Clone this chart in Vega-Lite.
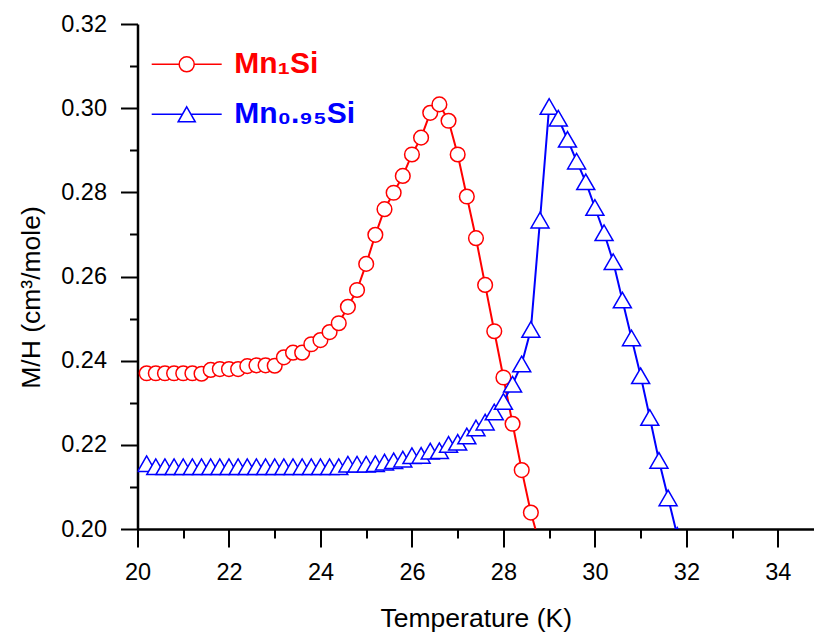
{
  "$schema": "https://vega.github.io/schema/vega-lite/v6.json",
  "width": 676.5,
  "height": 505,
  "autosize": "none",
  "padding": {"left": 137.5, "top": 24, "right": 0, "bottom": 106},
  "background": "white",
  "config": {
    "view": {"stroke": null},
    "axis": {
      "grid": false,
      "domainColor": "black",
      "domainWidth": 2.5,
      "tickColor": "black",
      "tickWidth": 2,
      "labelFont": "Liberation Sans",
      "labelFontSize": 23.5,
      "labelColor": "black",
      "titleFont": "Liberation Sans",
      "titleFontSize": 26.5,
      "titleFontWeight": "normal",
      "titleColor": "black"
    }
  },
  "datasets": {
    "pts": [
      {"s": "Mn1Si", "T": 20.2, "v": 0.2370},
      {"s": "Mn1Si", "T": 20.4, "v": 0.2370},
      {"s": "Mn1Si", "T": 20.6, "v": 0.2370},
      {"s": "Mn1Si", "T": 20.8, "v": 0.2370},
      {"s": "Mn1Si", "T": 21.0, "v": 0.2370},
      {"s": "Mn1Si", "T": 21.2, "v": 0.2370},
      {"s": "Mn1Si", "T": 21.4, "v": 0.2369},
      {"s": "Mn1Si", "T": 21.6, "v": 0.2378},
      {"s": "Mn1Si", "T": 21.8, "v": 0.2380},
      {"s": "Mn1Si", "T": 22.0, "v": 0.2380},
      {"s": "Mn1Si", "T": 22.2, "v": 0.2380},
      {"s": "Mn1Si", "T": 22.4, "v": 0.2387},
      {"s": "Mn1Si", "T": 22.6, "v": 0.2389},
      {"s": "Mn1Si", "T": 22.8, "v": 0.2389},
      {"s": "Mn1Si", "T": 23.0, "v": 0.2388},
      {"s": "Mn1Si", "T": 23.2, "v": 0.2408},
      {"s": "Mn1Si", "T": 23.4, "v": 0.2419},
      {"s": "Mn1Si", "T": 23.6, "v": 0.2419},
      {"s": "Mn1Si", "T": 23.8, "v": 0.2439},
      {"s": "Mn1Si", "T": 24.0, "v": 0.2449},
      {"s": "Mn1Si", "T": 24.2, "v": 0.2468},
      {"s": "Mn1Si", "T": 24.4, "v": 0.2489},
      {"s": "Mn1Si", "T": 24.6, "v": 0.2528},
      {"s": "Mn1Si", "T": 24.8, "v": 0.2568},
      {"s": "Mn1Si", "T": 25.0, "v": 0.2630},
      {"s": "Mn1Si", "T": 25.2, "v": 0.2699},
      {"s": "Mn1Si", "T": 25.4, "v": 0.2760},
      {"s": "Mn1Si", "T": 25.6, "v": 0.2799},
      {"s": "Mn1Si", "T": 25.8, "v": 0.2839},
      {"s": "Mn1Si", "T": 26.0, "v": 0.2890},
      {"s": "Mn1Si", "T": 26.2, "v": 0.2930},
      {"s": "Mn1Si", "T": 26.4, "v": 0.2989},
      {"s": "Mn1Si", "T": 26.6, "v": 0.3009},
      {"s": "Mn1Si", "T": 26.8, "v": 0.2970},
      {"s": "Mn1Si", "T": 27.0, "v": 0.2890},
      {"s": "Mn1Si", "T": 27.2, "v": 0.2790},
      {"s": "Mn1Si", "T": 27.4, "v": 0.2691},
      {"s": "Mn1Si", "T": 27.6, "v": 0.2580},
      {"s": "Mn1Si", "T": 27.8, "v": 0.2470},
      {"s": "Mn1Si", "T": 28.0, "v": 0.2360},
      {"s": "Mn1Si", "T": 28.2, "v": 0.2250},
      {"s": "Mn1Si", "T": 28.4, "v": 0.2140},
      {"s": "Mn1Si", "T": 28.6, "v": 0.2039},
      {"s": "Mn1Si", "T": 28.8, "v": 0.1961},
      {"s": "Mn0.95Si", "T": 20.2, "v": 0.2155},
      {"s": "Mn0.95Si", "T": 20.4, "v": 0.2148},
      {"s": "Mn0.95Si", "T": 20.6, "v": 0.2148},
      {"s": "Mn0.95Si", "T": 20.8, "v": 0.2148},
      {"s": "Mn0.95Si", "T": 21.0, "v": 0.2148},
      {"s": "Mn0.95Si", "T": 21.2, "v": 0.2148},
      {"s": "Mn0.95Si", "T": 21.4, "v": 0.2148},
      {"s": "Mn0.95Si", "T": 21.6, "v": 0.2148},
      {"s": "Mn0.95Si", "T": 21.8, "v": 0.2148},
      {"s": "Mn0.95Si", "T": 22.0, "v": 0.2148},
      {"s": "Mn0.95Si", "T": 22.2, "v": 0.2148},
      {"s": "Mn0.95Si", "T": 22.4, "v": 0.2148},
      {"s": "Mn0.95Si", "T": 22.6, "v": 0.2148},
      {"s": "Mn0.95Si", "T": 22.8, "v": 0.2148},
      {"s": "Mn0.95Si", "T": 23.0, "v": 0.2148},
      {"s": "Mn0.95Si", "T": 23.2, "v": 0.2148},
      {"s": "Mn0.95Si", "T": 23.4, "v": 0.2148},
      {"s": "Mn0.95Si", "T": 23.6, "v": 0.2148},
      {"s": "Mn0.95Si", "T": 23.8, "v": 0.2148},
      {"s": "Mn0.95Si", "T": 24.0, "v": 0.2148},
      {"s": "Mn0.95Si", "T": 24.2, "v": 0.2148},
      {"s": "Mn0.95Si", "T": 24.4, "v": 0.2148},
      {"s": "Mn0.95Si", "T": 24.6, "v": 0.2154},
      {"s": "Mn0.95Si", "T": 24.8, "v": 0.2154},
      {"s": "Mn0.95Si", "T": 25.0, "v": 0.2154},
      {"s": "Mn0.95Si", "T": 25.2, "v": 0.2155},
      {"s": "Mn0.95Si", "T": 25.4, "v": 0.2159},
      {"s": "Mn0.95Si", "T": 25.6, "v": 0.2162},
      {"s": "Mn0.95Si", "T": 25.8, "v": 0.2166},
      {"s": "Mn0.95Si", "T": 26.0, "v": 0.2174},
      {"s": "Mn0.95Si", "T": 26.2, "v": 0.2175},
      {"s": "Mn0.95Si", "T": 26.4, "v": 0.2185},
      {"s": "Mn0.95Si", "T": 26.6, "v": 0.2186},
      {"s": "Mn0.95Si", "T": 26.8, "v": 0.2201},
      {"s": "Mn0.95Si", "T": 27.0, "v": 0.2206},
      {"s": "Mn0.95Si", "T": 27.2, "v": 0.2221},
      {"s": "Mn0.95Si", "T": 27.4, "v": 0.2240},
      {"s": "Mn0.95Si", "T": 27.6, "v": 0.2254},
      {"s": "Mn0.95Si", "T": 27.8, "v": 0.2278},
      {"s": "Mn0.95Si", "T": 28.0, "v": 0.2303},
      {"s": "Mn0.95Si", "T": 28.2, "v": 0.2344},
      {"s": "Mn0.95Si", "T": 28.4, "v": 0.2392},
      {"s": "Mn0.95Si", "T": 28.6, "v": 0.2474},
      {"s": "Mn0.95Si", "T": 28.8, "v": 0.2734},
      {"s": "Mn0.95Si", "T": 29.0, "v": 0.3004},
      {"s": "Mn0.95Si", "T": 29.2, "v": 0.2976},
      {"s": "Mn0.95Si", "T": 29.4, "v": 0.2926},
      {"s": "Mn0.95Si", "T": 29.6, "v": 0.2874},
      {"s": "Mn0.95Si", "T": 29.8, "v": 0.2825},
      {"s": "Mn0.95Si", "T": 30.0, "v": 0.2764},
      {"s": "Mn0.95Si", "T": 30.2, "v": 0.2704},
      {"s": "Mn0.95Si", "T": 30.4, "v": 0.2635},
      {"s": "Mn0.95Si", "T": 30.6, "v": 0.2544},
      {"s": "Mn0.95Si", "T": 30.8, "v": 0.2454},
      {"s": "Mn0.95Si", "T": 31.0, "v": 0.2364},
      {"s": "Mn0.95Si", "T": 31.2, "v": 0.2265},
      {"s": "Mn0.95Si", "T": 31.4, "v": 0.2163},
      {"s": "Mn0.95Si", "T": 31.6, "v": 0.2074},
      {"s": "Mn0.95Si", "T": 31.8, "v": 0.1985}
    ],
    "frame": [{}]
  },
  "data": {"name": "pts"},
  "encoding": {
    "x": {
      "field": "T",
      "type": "quantitative",
      "scale": {"domain": [20, 34.79], "nice": false, "zero": false},
      "axis": {
        "title": "Temperature (K)",
        "values": [20, 21, 22, 23, 24, 25, 26, 27, 28, 29, 30, 31, 32, 33, 34],
        "labelExpr": "datum.value % 2 === 0 ? format(datum.value, 'd') : ''",
        "tickSize": {"condition": {"test": "datum.value % 2 === 0", "value": 18}, "value": 9},
        "labelPadding": 13,
        "labelFlush": false,
        "labelOverlap": false,
        "titleY": 89,
        "titleBaseline": "middle"
      }
    },
    "y": {
      "field": "v",
      "type": "quantitative",
      "scale": {"domain": [0.2, 0.32], "nice": false, "zero": false},
      "axis": {
        "title": "M/H (cm³/mole)",
        "values": [0.2, 0.21, 0.22, 0.23, 0.24, 0.25, 0.26, 0.27, 0.28, 0.29, 0.3, 0.31, 0.32],
        "labelExpr": "round(datum.value * 100) % 2 === 0 ? format(datum.value, '.2f') : ''",
        "tickSize": {"condition": {"test": "round(datum.value * 100) % 2 === 0", "value": 17}, "value": 8},
        "labelPadding": 14,
        "labelFlush": false,
        "labelOverlap": false,
        "titleX": -106,
        "titleY": 273,
        "titleBaseline": "middle"
      }
    }
  },
  "layer": [
    {
      "mark": {"type": "line", "strokeWidth": 2, "clip": true},
      "encoding": {
        "color": {
          "field": "s",
          "type": "nominal",
          "scale": {"domain": ["Mn1Si", "Mn0.95Si"], "range": ["#ff0000", "#0000ff"]},
          "legend": {
            "title": null,
            "orient": "none",
            "legendX": 30.7,
            "legendY": 21.8,
            "padding": 0,
            "rowPadding": 16,
            "symbolSize": 1225,
            "symbolStrokeWidth": 1.5,
            "symbolFillColor": "transparent",
            "labelFont": "Liberation Sans",
            "labelFontSize": 30,
            "labelFontWeight": "bold",
            "labelOffset": 29,
            "labelLimit": 0,
            "labelExpr": "datum.value === 'Mn1Si' ? 'Mn₁Si' : 'Mn₀.₉₅Si'",
            "encode": {
              "symbols": {
                "update": {
                  "shape": {"signal": "datum.value === 'Mn1Si' ? 'M-2,0H-0.43M0.43,0H2M0.43,0A0.43,0.43,0,1,1,-0.43,0A0.43,0.43,0,1,1,0.43,0Z' : 'M-2,0H-0.245M0.245,0H2M0,-0.43L0.49,0.43H-0.49Z'"},
                  "fill": {"value": "transparent"},
                  "strokeWidth": {"value": 1.5}
                }
              },
              "labels": {
                "update": {
                  "fill": {"signal": "datum.value === 'Mn1Si' ? '#ff0000' : '#0000ff'"}
                }
              }
            }
          }
        },
        "detail": {"field": "s"}
      }
    },
    {
      "transform": [{"filter": "datum.s === 'Mn1Si'"}],
      "mark": {"type": "point", "shape": "circle", "size": 215, "filled": false, "fill": "white", "fillOpacity": 1, "opacity": 1, "strokeWidth": 1.5, "clip": true},
      "encoding": {
        "color": {
          "field": "s",
          "type": "nominal",
          "scale": {"domain": ["Mn1Si", "Mn0.95Si"], "range": ["#ff0000", "#0000ff"]}
        }
      }
    },
    {
      "transform": [{"filter": "datum.s === 'Mn0.95Si'"}],
      "mark": {"type": "point", "shape": "triangle-up", "size": 324, "filled": false, "fill": "white", "fillOpacity": 1, "opacity": 1, "strokeWidth": 1.5, "clip": true},
      "encoding": {
        "color": {
          "field": "s",
          "type": "nominal",
          "scale": {"domain": ["Mn1Si", "Mn0.95Si"], "range": ["#ff0000", "#0000ff"]}
        }
      }
    },
    {
      "data": {"name": "frame"},
      "mark": {"type": "rule", "color": "black", "strokeWidth": 2.5},
      "encoding": {"y": {"datum": 0.32}}
    }
  ]
}
